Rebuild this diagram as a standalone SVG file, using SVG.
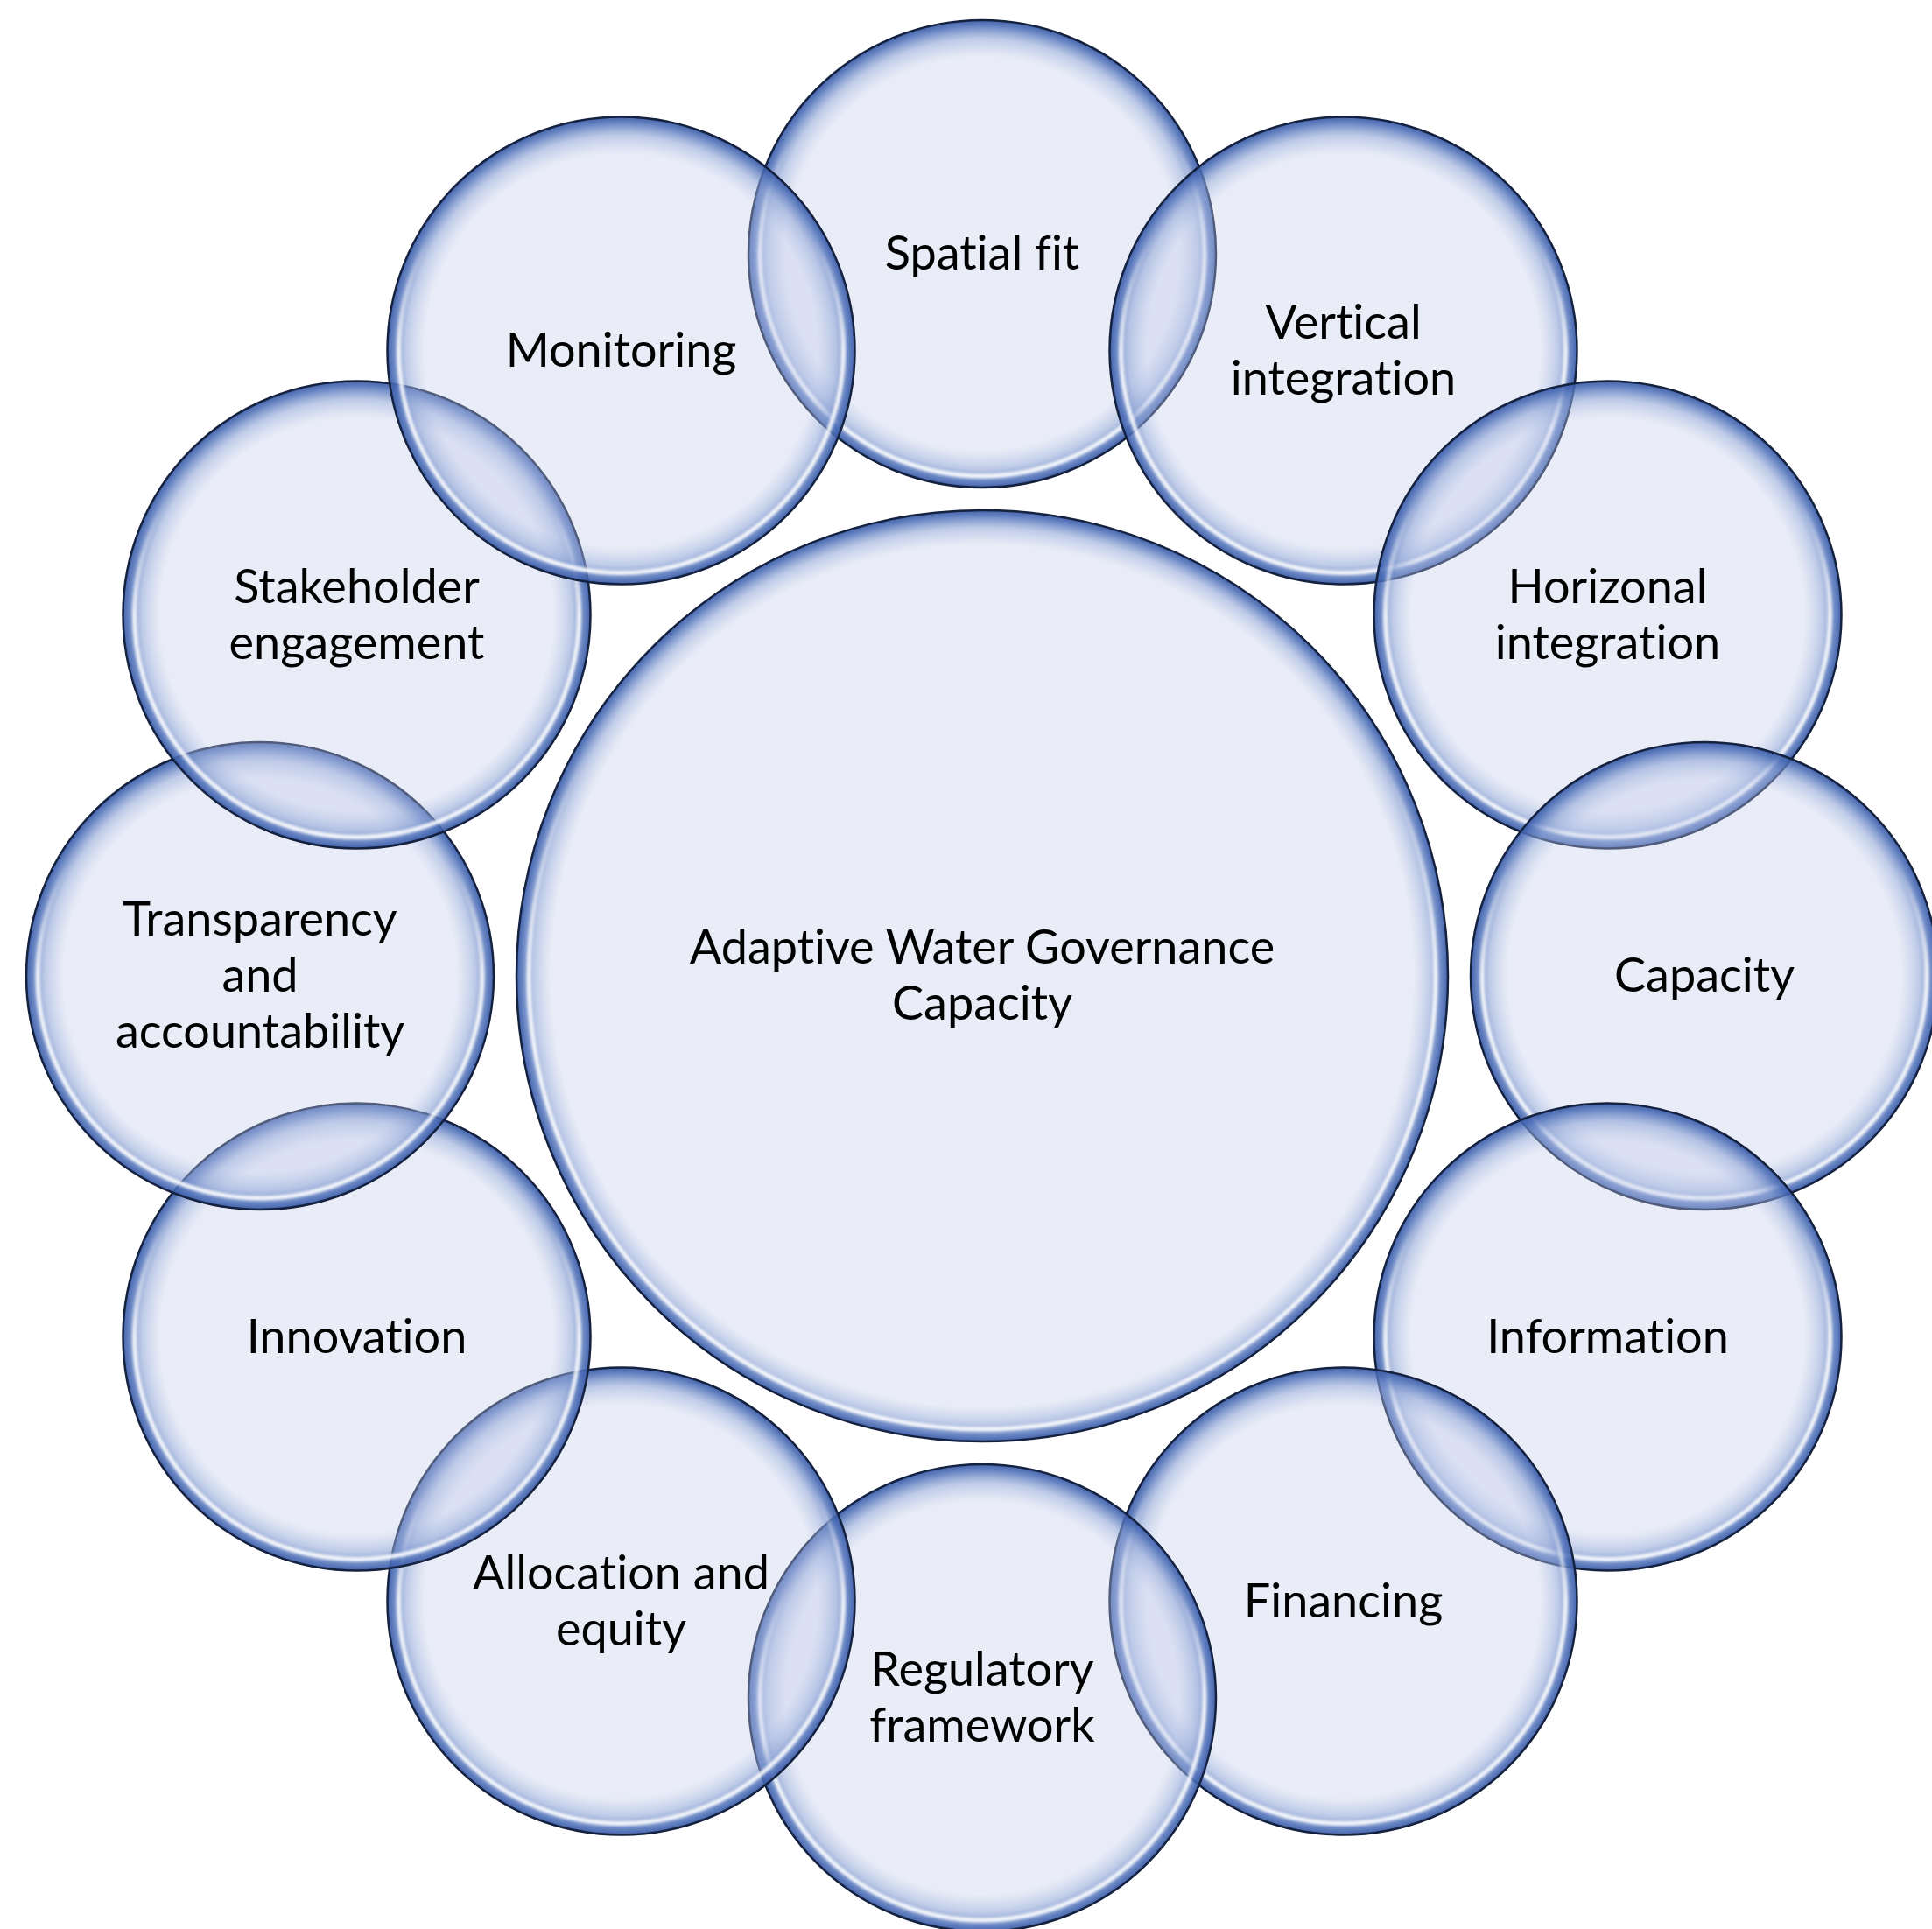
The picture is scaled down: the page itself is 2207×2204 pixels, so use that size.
<svg xmlns="http://www.w3.org/2000/svg" width="2207" height="2204" viewBox="0 0 2207 2204">
<defs>
<radialGradient id="gOuter" cx="50%" cy="50%" r="50%">
<stop offset="0" stop-color="#C0CAEA" stop-opacity="0.35"/>
<stop offset="0.84" stop-color="#C0CAEA" stop-opacity="0.35"/>
<stop offset="0.92" stop-color="#8FA5D6" stop-opacity="0.58"/>
<stop offset="0.975" stop-color="#4D6FB8" stop-opacity="0.85"/>
<stop offset="1" stop-color="#3A5AA6" stop-opacity="0.95"/>
</radialGradient>
<radialGradient id="gCenter" cx="50%" cy="50%" r="50%">
<stop offset="0" stop-color="#C0CAEA" stop-opacity="0.35"/>
<stop offset="0.925" stop-color="#C0CAEA" stop-opacity="0.35"/>
<stop offset="0.962" stop-color="#8FA5D6" stop-opacity="0.58"/>
<stop offset="0.988" stop-color="#4D6FB8" stop-opacity="0.85"/>
<stop offset="1" stop-color="#3A5AA6" stop-opacity="0.95"/>
</radialGradient>
<linearGradient id="hl" x1="0" y1="0" x2="0" y2="1">
<stop offset="0" stop-color="#FFFFFF" stop-opacity="0"/>
<stop offset="0.25" stop-color="#FFFFFF" stop-opacity="0"/>
<stop offset="0.5" stop-color="#FFFFFF" stop-opacity="0.85"/>
<stop offset="1" stop-color="#FFFFFF" stop-opacity="0.9"/>
</linearGradient>
<filter id="blur" x="-5%" y="-5%" width="110%" height="110%">
<feGaussianBlur stdDeviation="1.5"/>
</filter>
</defs>
<style>
.o{fill:url(#gOuter);stroke:#14213F;stroke-width:2.5}
.c{fill:url(#gCenter);stroke:#14213F;stroke-width:2.5}
.h{fill:none;stroke:url(#hl);stroke-width:5;filter:url(#blur)}
text{font-family:Lato,"Liberation Sans",sans-serif;font-size:54px;fill:#000;text-anchor:middle;font-variant-ligatures:none}
</style>
<rect width="2207" height="2204" fill="#FFFFFF"/>
<g id="connectors"/>
<g id="node-spatial-fit">
<circle class="o" cx="1122" cy="290" r="267"/>
<circle class="h" cx="1122" cy="290" r="254"/>
<text x="1122" y="308">Spatial fit</text>
</g>
<g id="node-vertical-integration">
<circle class="o" cx="1534.5" cy="400.5" r="267"/>
<circle class="h" cx="1534.5" cy="400.5" r="254"/>
<text x="1534.5" y="386.5">Vertical</text>
<text x="1534.5" y="450.5">integration</text>
</g>
<g id="node-horizonal-integration">
<circle class="o" cx="1836.5" cy="702.5" r="267"/>
<circle class="h" cx="1836.5" cy="702.5" r="254"/>
<text x="1836.5" y="688.5">Horizonal</text>
<text x="1836.5" y="752.5">integration</text>
</g>
<g id="node-capacity">
<circle class="o" cx="1947" cy="1115" r="267"/>
<circle class="h" cx="1947" cy="1115" r="254"/>
<text x="1947" y="1133">Capacity</text>
</g>
<g id="node-information">
<circle class="o" cx="1836.5" cy="1527.5" r="267"/>
<circle class="h" cx="1836.5" cy="1527.5" r="254"/>
<text x="1836.5" y="1545.5">Information</text>
</g>
<g id="node-financing">
<circle class="o" cx="1534.5" cy="1829.5" r="267"/>
<circle class="h" cx="1534.5" cy="1829.5" r="254"/>
<text x="1534.5" y="1847.5">Financing</text>
</g>
<g id="node-regulatory-framework">
<circle class="o" cx="1122" cy="1940" r="267"/>
<circle class="h" cx="1122" cy="1940" r="254"/>
<text x="1122" y="1926">Regulatory</text>
<text x="1122" y="1990">framework</text>
</g>
<g id="node-allocation-and-equity">
<circle class="o" cx="709.5" cy="1829.5" r="267"/>
<circle class="h" cx="709.5" cy="1829.5" r="254"/>
<text x="709.5" y="1815.5">Allocation and</text>
<text x="709.5" y="1879.5">equity</text>
</g>
<g id="node-innovation">
<circle class="o" cx="407.5" cy="1527.5" r="267"/>
<circle class="h" cx="407.5" cy="1527.5" r="254"/>
<text x="407.5" y="1545.5">Innovation</text>
</g>
<g id="node-transparency-and-accountability">
<circle class="o" cx="297" cy="1115" r="267"/>
<circle class="h" cx="297" cy="1115" r="254"/>
<text x="297" y="1069">Transparency</text>
<text x="297" y="1133">and</text>
<text x="297" y="1197">accountability</text>
</g>
<g id="node-stakeholder-engagement">
<circle class="o" cx="407.5" cy="702.5" r="267"/>
<circle class="h" cx="407.5" cy="702.5" r="254"/>
<text x="407.5" y="688.5">Stakeholder</text>
<text x="407.5" y="752.5">engagement</text>
</g>
<g id="node-monitoring">
<circle class="o" cx="709.5" cy="400.5" r="267"/>
<circle class="h" cx="709.5" cy="400.5" r="254"/>
<text x="709.5" y="418.5">Monitoring</text>
</g>
<g id="node-adaptive-water-governance-capacity">
<circle class="c" cx="1122" cy="1115" r="532"/>
<circle class="h" cx="1122" cy="1115" r="518"/>
<text x="1122" y="1101">Adaptive Water Governance</text>
<text x="1122" y="1165">Capacity</text>
</g>
</svg>
